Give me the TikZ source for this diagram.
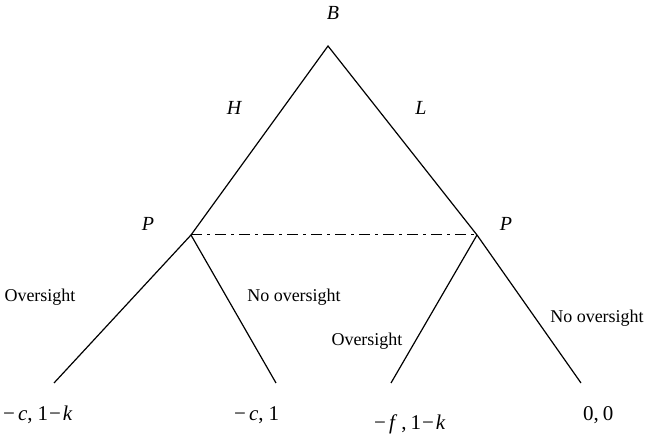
\documentclass[tikz,border=0pt]{standalone}
\usepackage{fontspec}
\setmainfont{Liberation Serif}
\begin{document}
\begin{tikzpicture}[x=1pt,y=-1pt,
  edge/.style={line width=1.2pt,black},
  lbl/.style={font=\fontsize{18}{20}\selectfont,inner sep=0pt,anchor=base},
  var/.style={font=\fontsize{20}{22}\selectfont\itshape,inner sep=0pt,anchor=base},
  pay/.style={font=\fontsize{21}{23}\selectfont,inner sep=0pt,anchor=base west}]
\useasboundingbox (0,0) rectangle (646,435);
\coordinate (b) at (328,46);
\coordinate (pl) at (191,235);
\coordinate (pr) at (477,235);
\coordinate (l1) at (54,383);
\coordinate (l2) at (276,383);
\coordinate (l3) at (391,383);
\coordinate (l4) at (581,383);
\draw[edge] (l2) -- (pl) -- (b) -- (pr) -- (l4);
\draw[edge] (l1) -- (pl);
\draw[edge] (l3) -- (pr);
\draw[line width=1pt,dash pattern=on 11pt off 5pt on 3pt off 5pt] (pl) -- (pr);
\node[var] (tB) at (333,20) {B};
\node[var] (tH) at (234,115) {H};
\node[var] (tL) at (421,115) {L};
\node[var] (tP1) at (148,231) {P};
\node[var] (tP2) at (506,231) {P};
\node[lbl] (o1) at (40,302) {Oversight};
\node[lbl] (n1) at (294,302) {No oversight};
\node[lbl] (o2) at (367,346) {Oversight};
\node[lbl] (n2) at (597,323) {No oversight};
\node[pay] (p1) at (3,421) {−\kern3pt\textit{c},\kern5pt1\kern1pt−\kern2pt\textit{k}};
\node[pay] (p2) at (234,421) {−\kern3pt\textit{c},\kern5pt1};
\node[pay] (p3) at (374,430) {−\kern3pt\textit{f}\kern4pt,\kern4pt1\kern1pt−\kern2pt\textit{k}};
\node[pay] (p4) at (583,421) {0,\kern4pt0};
\end{tikzpicture}
\end{document}
